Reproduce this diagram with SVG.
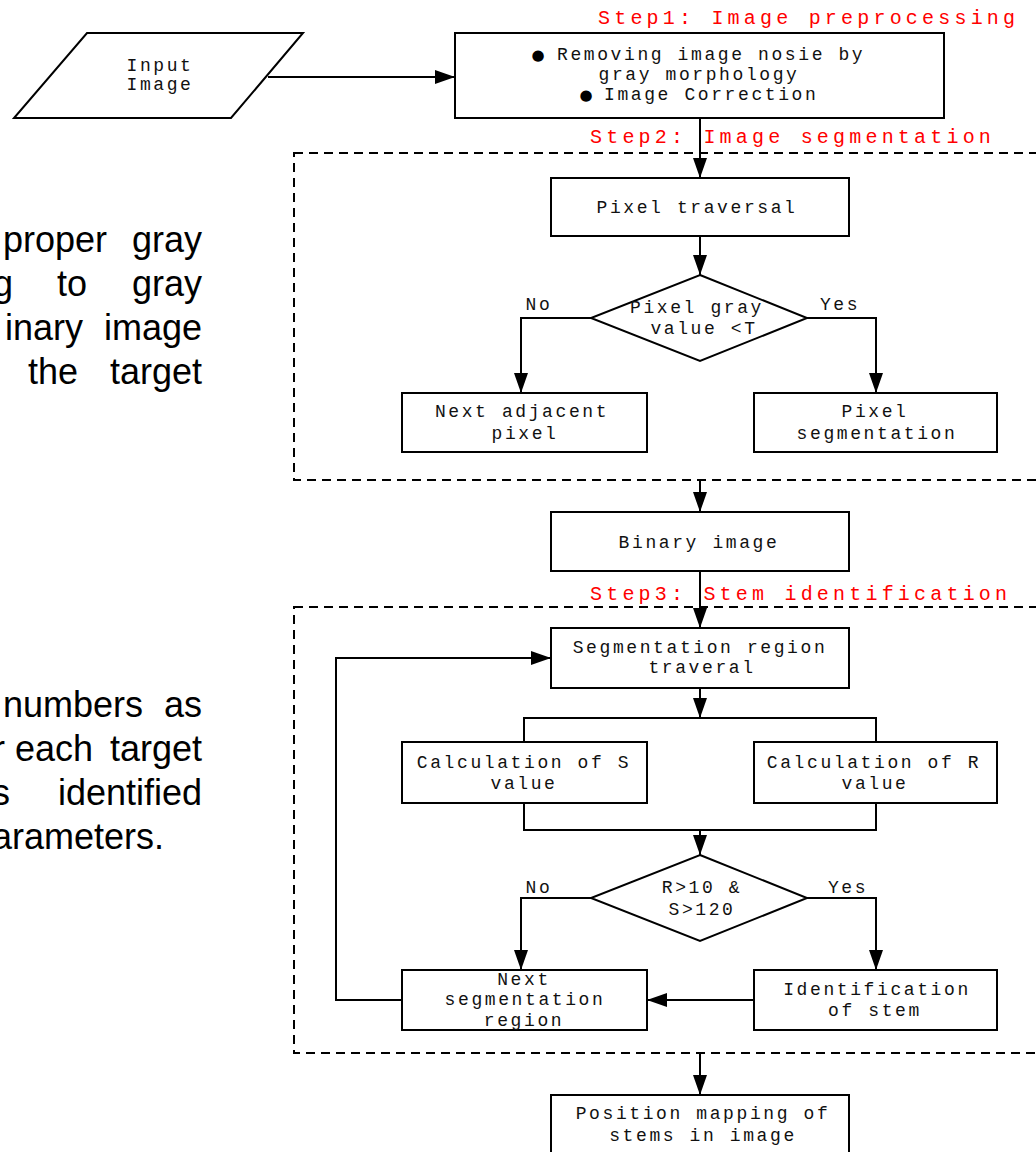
<svg xmlns="http://www.w3.org/2000/svg" width="1036" height="1152" viewBox="0 0 1036 1152">
<style>
.n{fill:#fff;stroke:#000;stroke-width:2}
.t{font-family:"Liberation Mono","DejaVu Sans Mono",monospace;font-size:18px;letter-spacing:2.6px;fill:#111;text-anchor:middle}
.s{text-anchor:start}
.b{font-family:"DejaVu Sans",sans-serif;font-size:15px;fill:#000;text-anchor:middle}
.r{font-family:"Liberation Mono","DejaVu Sans Mono",monospace;font-size:20px;letter-spacing:4.2px;fill:#f00}
.p{font-family:"Liberation Sans",Arial,sans-serif;font-size:36px;fill:#000}
.e{text-anchor:end}
.c{fill:none;stroke:#000;stroke-width:2}
.d{fill:none;stroke:#000;stroke-width:2;stroke-dasharray:9 6}
</style>
<defs>
<marker id="a" viewBox="0 0 20 14" refX="20" refY="7" markerWidth="20" markerHeight="14" markerUnits="userSpaceOnUse" orient="auto">
<path d="M0,0 L20,7 L0,14 Z" fill="#000"/>
</marker>
</defs>
<rect width="1036" height="1152" fill="#fff"/>
<g id="side-text">
<text class="p" x="3" y="252">proper</text>
<text class="p e" x="202" y="252">gray</text>
<text class="p e" x="13" y="296">g</text>
<text class="p" x="57" y="296">to</text>
<text class="p e" x="202" y="296">gray</text>
<text class="p" x="5" y="340">inary</text>
<text class="p e" x="202" y="340">image</text>
<text class="p" x="28" y="384">the</text>
<text class="p e" x="202" y="384">target</text>
<text class="p" x="3" y="717">numbers</text>
<text class="p e" x="202" y="717">as</text>
<text class="p e" x="5" y="761">r</text>
<text class="p" x="15" y="761">each</text>
<text class="p e" x="202" y="761">target</text>
<text class="p e" x="10" y="805">s</text>
<text class="p e" x="202" y="805">identified</text>
<text class="p e" x="164" y="849">arameters.</text>
</g>
<g id="regions">
<rect class="d" x="294" y="153" width="800" height="327"/>
<rect class="d" x="294" y="607" width="800" height="446"/>
<text class="r" x="598" y="24">Step1: Image preprocessing</text>
<text class="r" x="590" y="143">Step2: Image segmentation</text>
<text class="r" x="590" y="600">Step3: Stem identification</text>
</g>
<g id="connectors">
<line class="c" x1="268" y1="77" x2="455" y2="77" marker-end="url(#a)"/>
<line class="c" x1="700" y1="118" x2="700" y2="178" marker-end="url(#a)"/>
<line class="c" x1="700" y1="236" x2="700" y2="275" marker-end="url(#a)"/>
<polyline class="c" points="591,318 521,318 521,393" marker-end="url(#a)"/>
<polyline class="c" points="807,318 876,318 876,393" marker-end="url(#a)"/>
<line class="c" x1="700" y1="480" x2="700" y2="512" marker-end="url(#a)"/>
<line class="c" x1="700" y1="571" x2="700" y2="628" marker-end="url(#a)"/>
<line class="c" x1="700" y1="688" x2="700" y2="718" marker-end="url(#a)"/>
<polyline class="c" points="524,742 524,718 876,718 876,742"/>
<polyline class="c" points="524,803 524,830 876,830 876,803"/>
<line class="c" x1="700" y1="830" x2="700" y2="855" marker-end="url(#a)"/>
<polyline class="c" points="591,898 521,898 521,970" marker-end="url(#a)"/>
<polyline class="c" points="807,898 876,898 876,970" marker-end="url(#a)"/>
<line class="c" x1="754" y1="1000" x2="647" y2="1000" marker-end="url(#a)"/>
<polyline class="c" points="402,1000 336,1000 336,658 551,658" marker-end="url(#a)"/>
<line class="c" x1="700" y1="1053" x2="700" y2="1095" marker-end="url(#a)"/>
<text class="t" x="539" y="310">No</text>
<text class="t" x="840" y="310">Yes</text>
<text class="t" x="539" y="893">No</text>
<text class="t" x="848" y="893">Yes</text>
</g>
<g id="input">
<polygon class="n" points="87,33 303,33 231,118 14,118"/>
<text class="t" x="160" y="71">Input</text>
<text class="t" x="160" y="90">Image</text>
</g>
<g id="preprocess">
<rect class="n" x="455" y="33" width="489" height="85"/>
<text class="b" x="538" y="60">●</text>
<text class="t s" x="557" y="60">Removing image nosie by</text>
<text class="t" x="699" y="80">gray morphology</text>
<text class="b" x="586" y="100">●</text>
<text class="t s" x="604" y="100">Image Correction</text>
</g>
<g id="pixel-traversal">
<rect class="n" x="551" y="178" width="298" height="58"/>
<text class="t" x="697" y="213">Pixel traversal</text>
</g>
<g id="gray-decision">
<polygon class="n" points="700,275 807,318 700,361 591,318"/>
<text class="t" x="697" y="313">Pixel gray</text>
<text class="t" x="704" y="334">value &lt;T</text>
</g>
<g id="next-pixel">
<rect class="n" x="402" y="393" width="245" height="59"/>
<text class="t" x="522" y="417">Next adjacent</text>
<text class="t" x="525" y="439">pixel</text>
</g>
<g id="pixel-seg">
<rect class="n" x="754" y="393" width="243" height="59"/>
<text class="t" x="875" y="417">Pixel</text>
<text class="t" x="877" y="439">segmentation</text>
</g>
<g id="binary">
<rect class="n" x="551" y="512" width="298" height="59"/>
<text class="t" x="699" y="548">Binary image</text>
</g>
<g id="seg-traversal">
<rect class="n" x="551" y="628" width="298" height="60"/>
<text class="t" x="700" y="653">Segmentation region</text>
<text class="t" x="702" y="673">traveral</text>
</g>
<g id="calc-s">
<rect class="n" x="402" y="742" width="245" height="61"/>
<text class="t" x="524" y="768">Calculation of S</text>
<text class="t" x="524" y="789">value</text>
</g>
<g id="calc-r">
<rect class="n" x="754" y="742" width="243" height="61"/>
<text class="t" x="874" y="768">Calculation of R</text>
<text class="t" x="875" y="789">value</text>
</g>
<g id="rs-decision">
<polygon class="n" points="700,855 807,898 700,941 591,898"/>
<text class="t" x="702" y="893">R&gt;10 &amp;</text>
<text class="t" x="702" y="915">S&gt;120</text>
</g>
<g id="next-region">
<rect class="n" x="402" y="970" width="245" height="60"/>
<text class="t" x="524" y="985">Next</text>
<text class="t" x="525" y="1005">segmentation</text>
<text class="t" x="524" y="1026">region</text>
</g>
<g id="identification">
<rect class="n" x="754" y="970" width="243" height="60"/>
<text class="t" x="877" y="995">Identification</text>
<text class="t" x="875" y="1016">of stem</text>
</g>
<g id="position-mapping">
<rect class="n" x="551" y="1095" width="298" height="70"/>
<text class="t" x="703" y="1119">Position mapping of</text>
<text class="t" x="703" y="1141">stems in image</text>
</g>
</svg>
